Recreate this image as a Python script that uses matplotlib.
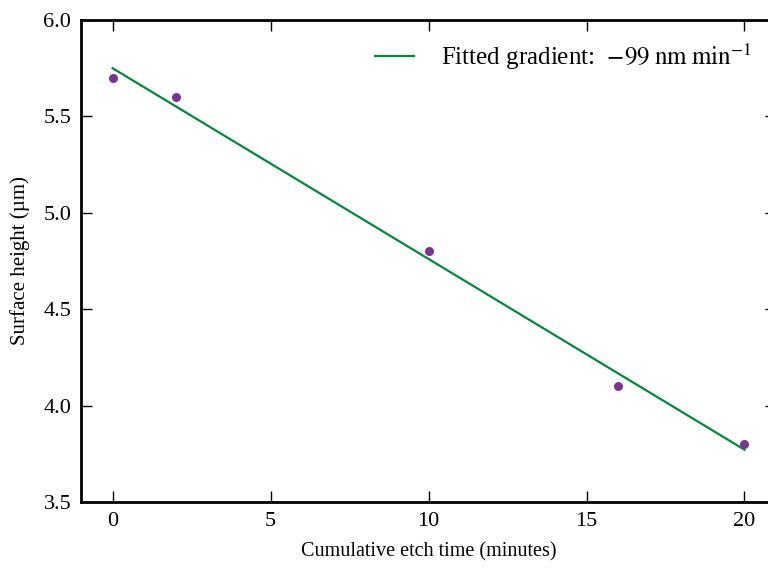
import numpy as np
import matplotlib
matplotlib.use('Agg')
from matplotlib import pyplot as plt

# Measured surface height after each etch step
etch_time = [0, 2, 10, 16, 20]          # minutes
surface_height = [5.7, 5.6, 4.8, 4.1, 3.8]  # micrometres

x_ticks = [0, 5, 10, 15, 20]
y_ticks = [3.5, 4.0, 4.5, 5.0, 5.5, 6.0]

plt.rcParams['font.family'] = ['Liberation Serif', 'DejaVu Serif']
plt.rcParams['mathtext.fontset'] = 'stix'
plt.rcParams['font.size'] = 14

# Linear fit through the measurements
slope, intercept = np.polyfit(etch_time, surface_height, 1)
fit_x = np.array([etch_time[0], etch_time[-1]])
fit_y = slope * fit_x + intercept
gradient_nm = slope * 1000

fig = plt.figure(figsize=(7.68, 5.69), dpi=100)
# right edge sits just past the figure, as in the original crop
ax = fig.add_axes([0.1055, 0.1178, 0.905, 0.8471])

ax.plot(fit_x, fit_y, color='#008a3c', linewidth=1.6,
        label=r'Fitted gradient:  $-%d\;\mathrm{nm}\;\mathrm{min}^{-1}$' % round(-gradient_nm))
ax.plot(etch_time, surface_height, 'o', color='#7b3294', markersize=6.5, markeredgewidth=0)

ax.set_xlim(-1, 21)
ax.set_ylim(3.5, 6.0)
ax.set_xticks(x_ticks)
ax.set_yticks(y_ticks)
ax.set_yticklabels([f'{v:.1f}' for v in y_ticks])

ax.tick_params(direction='in', top=True, right=True, length=8, width=1, labelsize=16, pad=7)
for side in ax.spines.values():
    side.set_linewidth(2)

ax.set_xlabel('Cumulative etch time (minutes)', fontsize=14.5, labelpad=8)
ax.set_ylabel('Surface height (µm)', fontsize=15, labelpad=10)

ax.legend(loc='upper right', bbox_to_anchor=(1.008, 0.966), bbox_transform=fig.transFigure,
          frameon=False, fontsize=18, handlelength=1.55, handletextpad=1.1)

plt.savefig('out.png', dpi=100)
